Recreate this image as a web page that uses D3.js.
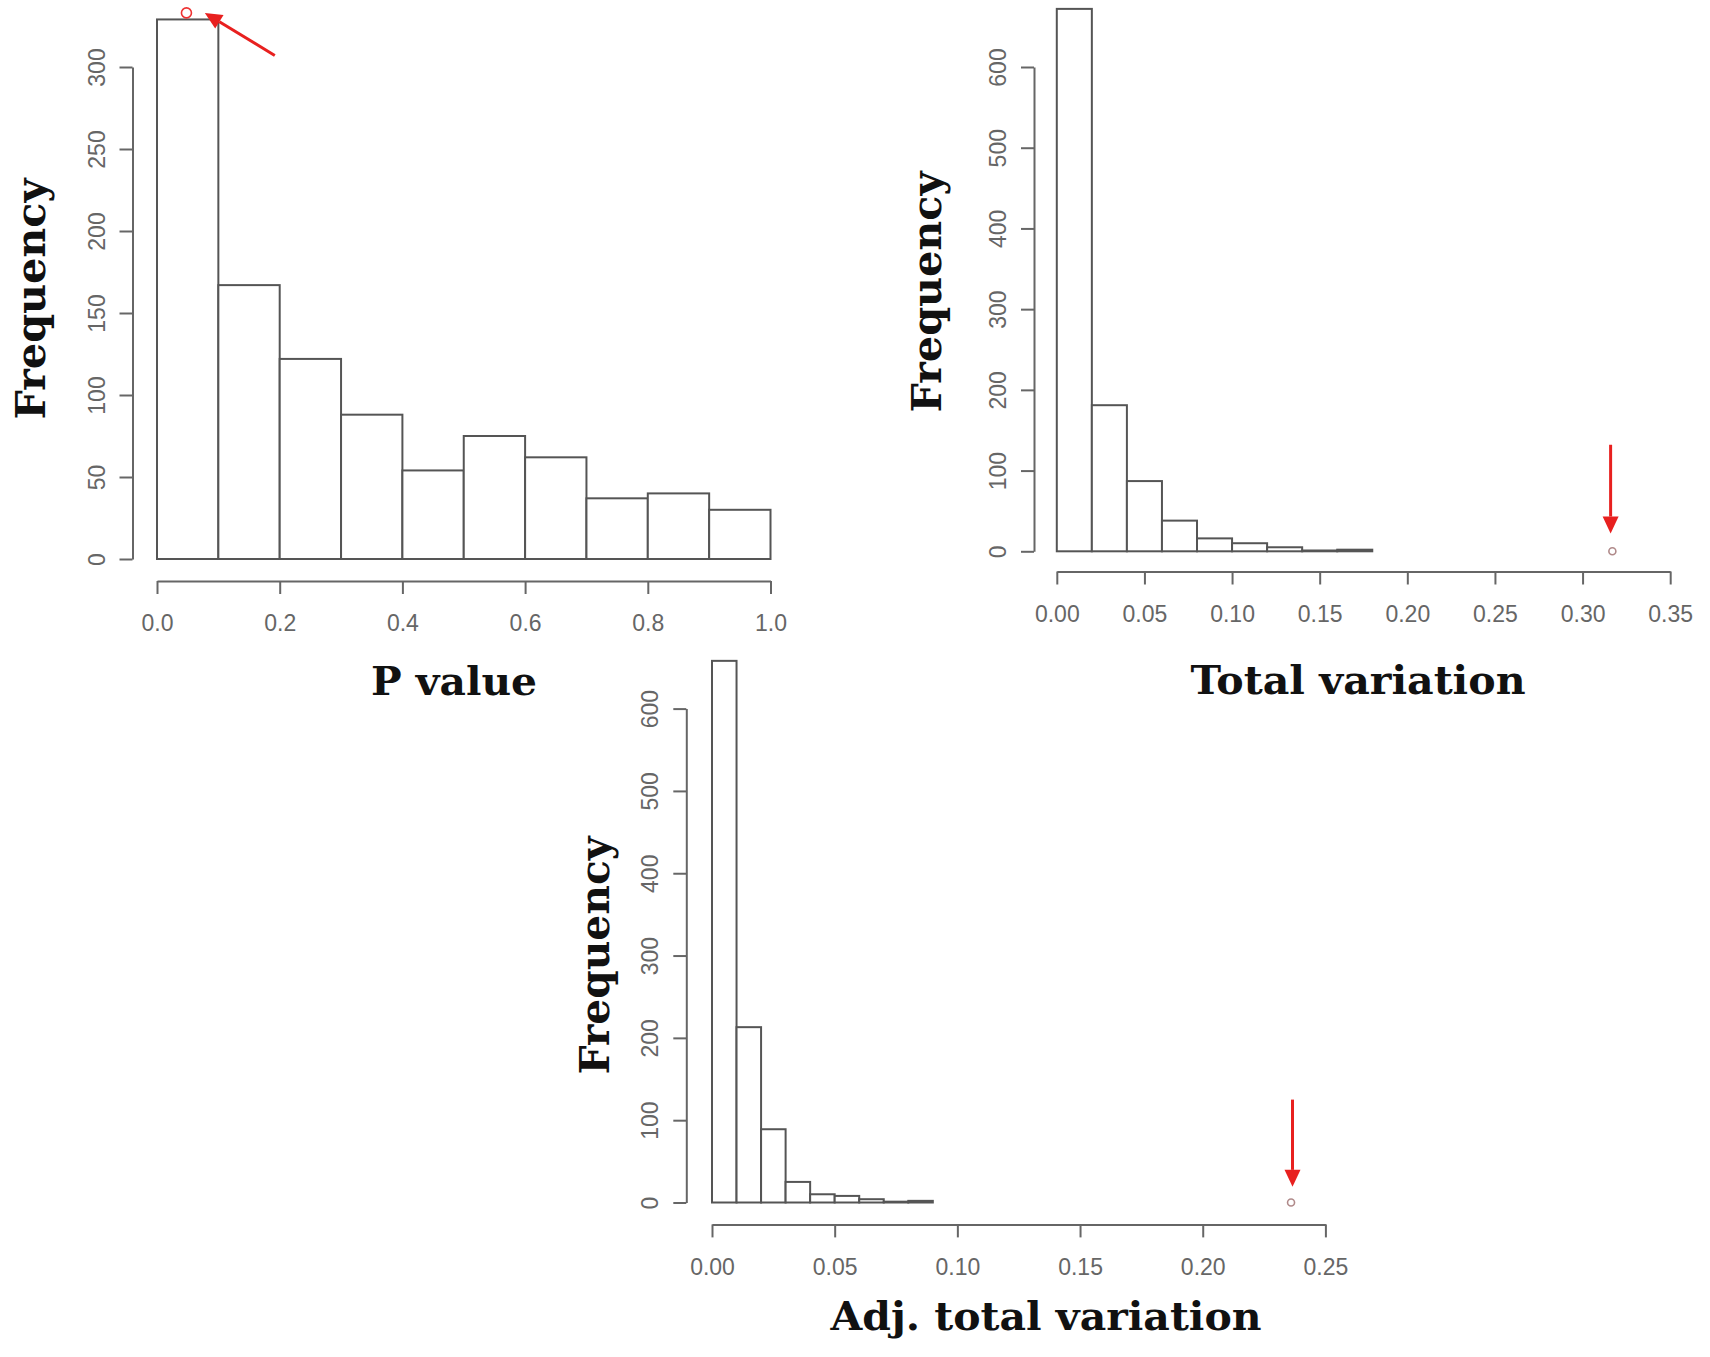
<!DOCTYPE html>
<html>
<head>
<meta charset="utf-8">
<script src="https://cdn.jsdelivr.net/npm/d3@7"></script>
<style>
  html, body { margin: 0; padding: 0; background: #fff; }
  svg { display: block; }
</style>
</head>
<body>
<script>
// histogram counts
var pBreaks = [0, 0.1, 0.2, 0.3, 0.4, 0.5, 0.6, 0.7, 0.8, 0.9, 1.0];
var pCounts = [329, 167, 122, 88, 54, 75, 62, 37, 40, 30];
var pXTicks = [0, 0.2, 0.4, 0.6, 0.8, 1.0];
var pYTicks = [0, 50, 100, 150, 200, 250, 300];

var tvBreaks = [0, 0.02, 0.04, 0.06, 0.08, 0.10, 0.12, 0.14, 0.16, 0.18];
var tvCounts = [672, 181, 87, 38, 16, 10, 5, 1, 2];
var tvXTicks = [0, 0.05, 0.10, 0.15, 0.20, 0.25, 0.30, 0.35];
var tvYTicks = [0, 100, 200, 300, 400, 500, 600];

var adjBreaks = [0, 0.01, 0.02, 0.03, 0.04, 0.05, 0.06, 0.07, 0.08, 0.09];
var adjCounts = [658, 213, 89, 25, 10, 8, 4, 1, 2];
var adjXTicks = [0, 0.05, 0.10, 0.15, 0.20, 0.25];
var adjYTicks = [0, 100, 200, 300, 400, 500, 600];

// observed value (circle) and arrow [x1, y1, x2, y2] in data units
var pObs = [0.048, 333];
var pArrow = [0.192, 307, 0.078, 333];
var tvObs = [0.317, 0];
var tvArrow = [0.316, 132, 0.316, 22];
var adjObs = [0.236, 0];
var adjArrow = [0.2366, 125, 0.2366, 19];

var W = 1710, H = 1357;
var svg = d3.select('body').append('svg').attr('width', W).attr('height', H);

var axisCol = '#666';
var red = '#e8201f';

function panel(opt) {
  var x = d3.scaleLinear().domain(opt.xDomain).range(opt.xRange);
  var y = d3.scaleLinear().domain(opt.yDomain).range(opt.yRange);
  var g = svg.append('g');

  // bars
  var bins = opt.counts.map(function(c, i) {
    return { x0: opt.breaks[i], x1: opt.breaks[i + 1], n: c };
  });
  g.selectAll('rect.bar').data(bins).enter().append('rect')
    .attr('class', 'bar')
    .attr('x', function(d) { return x(d.x0); })
    .attr('width', function(d) { return x(d.x1) - x(d.x0); })
    .attr('y', function(d) { return y(d.n); })
    .attr('height', function(d) { return y(0) - y(d.n); })
    .attr('fill', '#fff')
    .attr('stroke', '#555')
    .attr('stroke-width', 2);

  // y axis
  var yAxis = d3.axisLeft(y).tickValues(opt.yTicks).tickSize(13).tickSizeOuter(0)
    .tickFormat(d3.format('d'));
  var ya = g.append('g').attr('transform', 'translate(' + opt.yAxisX + ',0)').call(yAxis);
  ya.selectAll('text')
    .attr('transform', 'rotate(-90)')
    .attr('x', 0).attr('y', -36).attr('dy', '0.35em')
    .style('text-anchor', 'middle');

  // x axis
  var xAxis = d3.axisBottom(x).tickValues(opt.xTicks).tickSize(13).tickSizeOuter(0)
    .tickFormat(d3.format(opt.xFmt));
  var xa = g.append('g').attr('transform', 'translate(0,' + opt.xAxisY + ')').call(xAxis);
  xa.selectAll('text').attr('y', 42).attr('dy', '0.36em');

  [ya, xa].forEach(function(a) {
    a.selectAll('path.domain').attr('stroke', axisCol).attr('stroke-width', 2);
    a.selectAll('line').attr('stroke', axisCol).attr('stroke-width', 2);
    a.selectAll('text').attr('fill', '#666')
      .style('font-family', '"Liberation Sans", Arial, sans-serif')
      .style('font-size', '23px');
  });

  // axis titles
  g.append('text')
    .attr('x', opt.xTitle[0]).attr('y', opt.xTitle[1])
    .attr('text-anchor', 'middle')
    .attr('textLength', opt.xTitle[2]).attr('lengthAdjust', 'spacingAndGlyphs')
    .style('font-family', '"DejaVu Serif", serif').style('font-weight', 'bold')
    .style('font-size', '40px').attr('fill', '#111')
    .text(opt.xLabel);

  g.append('text')
    .attr('transform', 'translate(' + opt.yTitle[0] + ',' + opt.yTitle[1] + ') rotate(-90)')
    .attr('text-anchor', 'middle')
    .attr('textLength', opt.yTitle[2]).attr('lengthAdjust', 'spacingAndGlyphs')
    .style('font-family', '"DejaVu Serif", serif').style('font-weight', 'bold')
    .style('font-size', '41px').attr('fill', '#111')
    .text('Frequency');

  // observed value marker
  g.append('circle')
    .attr('cx', x(opt.obs[0])).attr('cy', y(opt.obs[1]))
    .attr('r', opt.obsR)
    .attr('fill', 'none')
    .attr('stroke', opt.obsCol)
    .attr('stroke-width', 1.6);

  // arrow pointing at it
  var x1 = x(opt.arrow[0]), y1 = y(opt.arrow[1]);
  var x2 = x(opt.arrow[2]), y2 = y(opt.arrow[3]);
  var ang = Math.atan2(y2 - y1, x2 - x1);
  var hl = 17, hw = 8;
  var bx = x2 - hl * Math.cos(ang), by = y2 - hl * Math.sin(ang);
  g.append('line')
    .attr('x1', x1).attr('y1', y1).attr('x2', bx).attr('y2', by)
    .attr('stroke', red).attr('stroke-width', 3);
  var pts = [
    [x2, y2],
    [bx + hw * Math.sin(ang), by - hw * Math.cos(ang)],
    [bx - hw * Math.sin(ang), by + hw * Math.cos(ang)]
  ];
  g.append('polygon')
    .attr('points', pts.map(function(p) { return p.join(','); }).join(' '))
    .attr('fill', red);
}

panel({
  breaks: pBreaks, counts: pCounts, xTicks: pXTicks, yTicks: pYTicks,
  xDomain: [0, 1], xRange: [157, 770.5],
  yDomain: [0, 300], yRange: [559, 67],
  yAxisX: 132.5, xAxisY: 581, xFmt: '.1f',
  xLabel: 'P value', xTitle: [454, 695, 166], yTitle: [45, 299, 241],
  obs: pObs, obsR: 5, obsCol: '#e33', arrow: pArrow
});

panel({
  breaks: tvBreaks, counts: tvCounts, xTicks: tvXTicks, yTicks: tvYTicks,
  xDomain: [0, 0.35], xRange: [1056.8, 1670.2],
  yDomain: [0, 600], yRange: [551.3, 67],
  yAxisX: 1034, xAxisY: 571.5, xFmt: '.2f',
  xLabel: 'Total variation', xTitle: [1358, 694, 335], yTitle: [941, 292, 241],
  obs: tvObs, obsR: 3.5, obsCol: '#b08a8a', arrow: tvArrow
});

panel({
  breaks: adjBreaks, counts: adjCounts, xTicks: adjXTicks, yTicks: adjYTicks,
  xDomain: [0, 0.25], xRange: [712, 1325.4],
  yDomain: [0, 600], yRange: [1202.5, 708.6],
  yAxisX: 686.3, xAxisY: 1224.4, xFmt: '.2f',
  xLabel: 'Adj. total variation', xTitle: [1046, 1330, 431], yTitle: [609, 955.5, 238],
  obs: adjObs, obsR: 3.5, obsCol: '#b08a8a', arrow: adjArrow
});
</script>
</body>
</html>
